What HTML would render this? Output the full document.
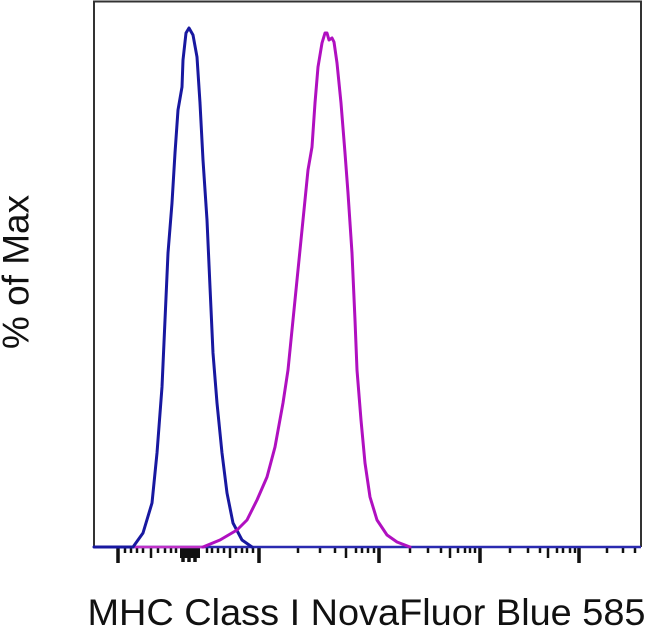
<!DOCTYPE html>
<html><head><meta charset="utf-8"><style>
html,body{margin:0;padding:0;background:#fff;}
svg{display:block;}
</style></head><body>
<svg width="650" height="627" viewBox="0 0 650 627" xmlns="http://www.w3.org/2000/svg">
<rect width="650" height="627" fill="#fff"/>
<polyline points="94,547 94,1.5 641,1.5 641,547" fill="none" stroke="#333" stroke-width="2"/>
<g stroke="#111" fill="none">
<g stroke-width="3.5">
<line x1="118" y1="547" x2="118" y2="563"/>
<line x1="259" y1="547" x2="259" y2="563"/>
<line x1="379" y1="547" x2="379" y2="563"/>
<line x1="480" y1="547" x2="480" y2="563"/>
<line x1="579" y1="547" x2="579" y2="563"/>
<line x1="183" y1="547" x2="183" y2="562"/>
<line x1="189" y1="547" x2="189" y2="562"/>
<line x1="195" y1="547" x2="195" y2="562"/>
</g>
<g stroke-width="2.5">
<line x1="125" y1="547" x2="125" y2="553"/>
<line x1="131" y1="547" x2="131" y2="553"/>
<line x1="137" y1="547" x2="137" y2="553"/>
<line x1="143" y1="547" x2="143" y2="553"/>
<line x1="151" y1="547" x2="151" y2="558"/>
<line x1="158" y1="547" x2="158" y2="553"/>
<line x1="165" y1="547" x2="165" y2="553"/>
<line x1="171" y1="547" x2="171" y2="553"/>
<line x1="176" y1="547" x2="176" y2="553"/>
<line x1="207" y1="547" x2="207" y2="553"/>
<line x1="212" y1="547" x2="212" y2="553"/>
<line x1="218" y1="547" x2="218" y2="553"/>
<line x1="224" y1="547" x2="224" y2="553"/>
<line x1="230" y1="547" x2="230" y2="558"/>
<line x1="236" y1="547" x2="236" y2="553"/>
<line x1="242" y1="547" x2="242" y2="553"/>
<line x1="247" y1="547" x2="247" y2="553"/>
<line x1="253" y1="547" x2="253" y2="553"/>
<line x1="298" y1="547" x2="298" y2="553"/>
<line x1="320" y1="547" x2="320" y2="553"/>
<line x1="335" y1="547" x2="335" y2="553"/>
<line x1="346" y1="547" x2="346" y2="558"/>
<line x1="356" y1="547" x2="356" y2="553"/>
<line x1="362" y1="547" x2="362" y2="553"/>
<line x1="368" y1="547" x2="368" y2="553"/>
<line x1="374" y1="547" x2="374" y2="553"/>
<line x1="410" y1="547" x2="410" y2="553"/>
<line x1="428" y1="547" x2="428" y2="553"/>
<line x1="441" y1="547" x2="441" y2="553"/>
<line x1="450" y1="547" x2="450" y2="558"/>
<line x1="458" y1="547" x2="458" y2="553"/>
<line x1="465" y1="547" x2="465" y2="553"/>
<line x1="470" y1="547" x2="470" y2="553"/>
<line x1="475" y1="547" x2="475" y2="553"/>
<line x1="510" y1="547" x2="510" y2="553"/>
<line x1="528" y1="547" x2="528" y2="553"/>
<line x1="540" y1="547" x2="540" y2="553"/>
<line x1="548" y1="547" x2="548" y2="558"/>
<line x1="557" y1="547" x2="557" y2="553"/>
<line x1="563" y1="547" x2="563" y2="553"/>
<line x1="570" y1="547" x2="570" y2="553"/>
<line x1="575" y1="547" x2="575" y2="553"/>
<line x1="607" y1="547" x2="607" y2="553"/>
<line x1="623" y1="547" x2="623" y2="553"/>
<line x1="635" y1="547" x2="635" y2="553"/>
</g>
<rect x="180" y="547" width="20" height="11" fill="#111" stroke="none"/>
</g>
<line x1="94" y1="547" x2="641" y2="547" stroke="#2a2ab0" stroke-width="2.5"/>
<line x1="133" y1="547" x2="205" y2="547" stroke="#c030c8" stroke-width="2.5"/>
<polyline fill="none" stroke="#1818a0" stroke-width="3" stroke-linejoin="round" stroke-linecap="round"
points="94,547 133,547 143,533 152,503 157,453 162,387 165,320 168,253 172,203 175,153 178,110 182,87 183,60 186,33 189,28 193,35 197,57 200,103 203,160 207,220 210,287 213,353 217,403 222,453 227,493 233,523 242,540 252,547"/>
<polyline fill="none" stroke="#b010c0" stroke-width="3" stroke-linejoin="round" stroke-linecap="round"
points="203,547 220,540 237,530 247,520 257,500 267,477 275,447 283,403 288,370 293,320 298,270 303,220 308,170 312,147 315,103 318,67 322,43 325,33 327,33 329,40 332,38 334,42 337,63 341,103 345,153 348,193 352,253 355,320 357,370 361,420 365,463 370,497 377,520 387,535 397,542 410,547"/>
<text x="87.5" y="625" font-family="Liberation Sans, Arial, sans-serif" font-size="37" fill="#111" textLength="558" lengthAdjust="spacingAndGlyphs">MHC Class I NovaFluor Blue 585</text>
<text transform="translate(28.5,272) rotate(-90)" text-anchor="middle" font-family="Liberation Sans, Arial, sans-serif" font-size="37" fill="#111">% of Max</text>
</svg>
</body></html>
